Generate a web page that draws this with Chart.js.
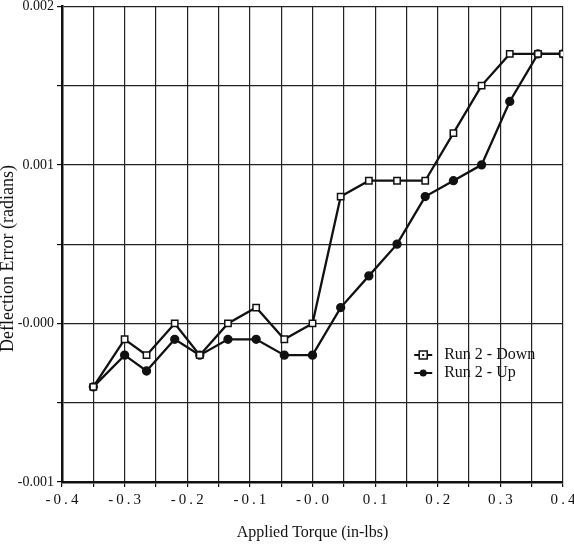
<!DOCTYPE html>
<html>
<head>
<meta charset="utf-8">
<script src="https://cdn.jsdelivr.net/npm/chart.js@4/dist/chart.umd.min.js"></script>
<style>
  html, body { margin: 0; padding: 0; background: #fff; }
  #wrap { width: 574px; height: 545px; position: relative; }
</style>
</head>
<body>
<div id="wrap"><canvas id="deflectionChart"></canvas></div>
<script>
// applied torque (in-lbs)
const torque = [-0.35, -0.30, -0.265, -0.22, -0.18, -0.135, -0.09, -0.045, 0.0,
  0.045, 0.09, 0.135, 0.18, 0.225, 0.27, 0.315, 0.36, 0.4];
// deflection error (radians)
const run2Down = [-0.0004, -0.0001, -0.0002, 0.0, -0.0002, 0.0, 0.0001, -0.0001, 0.0,
  0.0008, 0.0009, 0.0009, 0.0009, 0.0012, 0.0015, 0.0017, 0.0017, 0.0017];
const run2Up = [-0.0004, -0.0002, -0.0003, -0.0001, -0.0002, -0.0001, -0.0001, -0.0002, -0.0002,
  0.0001, 0.0003, 0.0005, 0.0008, 0.0009, 0.0010, 0.0014, 0.0017, 0.0017];
const seriesNames = ['Run 2 - Down', 'Run 2 - Up'];
const yTitle = 'Deflection Error (radians)';

const serif = "'Liberation Serif', 'DejaVu Serif', serif";

const toPoints = ys => torque.map((x, i) => ({ x: x, y: ys[i] }));

// legend inside the plot + y title sitting a bit low, like the original
const extras = {
  id: 'extras',
  afterDatasetsDraw(chart) {
    const ctx = chart.ctx;
    const area = chart.chartArea;
    const x0 = area.left + (area.right - area.left) * 0.703;
    const y0 = area.top + (area.bottom - area.top) * 0.733;
    ctx.save();
    ctx.font = '16px ' + serif;
    ctx.fillStyle = '#111';
    ctx.textBaseline = 'middle';
    chart.data.datasets.forEach((ds, i) => {
      const y = y0 + i * 18;
      ctx.strokeStyle = '#111';
      ctx.lineWidth = 2;
      ctx.beginPath();
      ctx.moveTo(x0, y);
      ctx.lineTo(x0 + 18, y);
      ctx.stroke();
      const cx = x0 + 9;
      if (i === 0) {
        ctx.fillStyle = '#fff';
        ctx.fillRect(cx - 4, y - 4, 8, 8);
        ctx.lineWidth = 1.5;
        ctx.strokeRect(cx - 4, y - 4, 8, 8);
        ctx.fillStyle = '#111';
        ctx.fillRect(cx - 1, y - 1, 2, 2);
      } else {
        ctx.beginPath();
        ctx.arc(cx, y, 3.5, 0, Math.PI * 2);
        ctx.fill();
      }
      ctx.fillStyle = '#111';
      ctx.fillText(ds.label, x0 + 30, y);
    });

    ctx.translate(8, area.top + (area.bottom - area.top) * 0.53);
    ctx.rotate(-Math.PI / 2);
    ctx.font = '18px ' + serif;
    ctx.textAlign = 'center';
    ctx.fillText(yTitle, 0, 0);
    ctx.restore();
  }
};

new Chart(document.getElementById('deflectionChart'), {
  type: 'line',
  data: {
    datasets: [{
      label: seriesNames[0],
      data: toPoints(run2Down),
      borderColor: '#111',
      borderWidth: 2.3,
      pointStyle: 'rect',
      pointRadius: 4.5,
      pointBackgroundColor: '#fff',
      pointBorderColor: '#111',
      pointBorderWidth: 1.5,
      tension: 0
    }, {
      label: seriesNames[1],
      data: toPoints(run2Up),
      borderColor: '#111',
      borderWidth: 2.3,
      pointStyle: 'circle',
      pointRadius: 3.5,
      pointBackgroundColor: '#111',
      pointBorderColor: '#111',
      tension: 0
    }]
  },
  options: {
    responsive: true,
    maintainAspectRatio: false,
    animation: false,
    layout: { padding: { top: 5, right: 11, left: 0, bottom: 0 } },
    plugins: {
      legend: { display: false },
      tooltip: { enabled: false }
    },
    scales: {
      x: {
        type: 'linear',
        min: -0.4,
        max: 0.4,
        afterFit: s => { s.height = 63; s.paddingLeft = 0; s.paddingRight = 0; },
        ticks: {
          stepSize: 0.05,
          autoSkip: false,
          maxRotation: 0,
          padding: 4,
          color: '#111',
          font: { family: serif, size: 15 },
          callback: v => {
            const t = Math.round(v * 100);
            if (t % 10 !== 0) return '';
            const s = (v <= 0 ? '-' : '') + Math.abs(v).toFixed(1);
            return s.split('').join('\u2009');
          }
        },
        grid: { color: '#222', lineWidth: 1.2, tickLength: 5, tickColor: '#111' },
        border: { color: '#111', width: 2.5 },
        title: {
          display: true,
          text: 'Applied Torque (in-lbs)',
          color: '#111',
          font: { family: serif, size: 16 },
          padding: { top: 0, bottom: 3 }
        }
      },
      y: {
        type: 'linear',
        min: -0.001,
        max: 0.002,
        afterFit: s => { s.width = 62; s.paddingTop = 0; s.paddingBottom = 0; },
        ticks: {
          stepSize: 0.0005,
          autoSkip: false,
          padding: 3,
          color: '#111',
          font: { family: serif, size: 14 },
          callback: v => {
            const t = Math.round(v * 10000);
            if (t % 10 !== 0) return '';
            return (v <= 0 ? '-' : '') + Math.abs(v).toFixed(3);
          }
        },
        grid: { color: '#222', lineWidth: 1.2, tickLength: 5, tickColor: '#111' },
        border: { color: '#111', width: 2.5 },
        title: { display: false }
      }
    }
  },
  plugins: [extras]
});
</script>
</body>
</html>
